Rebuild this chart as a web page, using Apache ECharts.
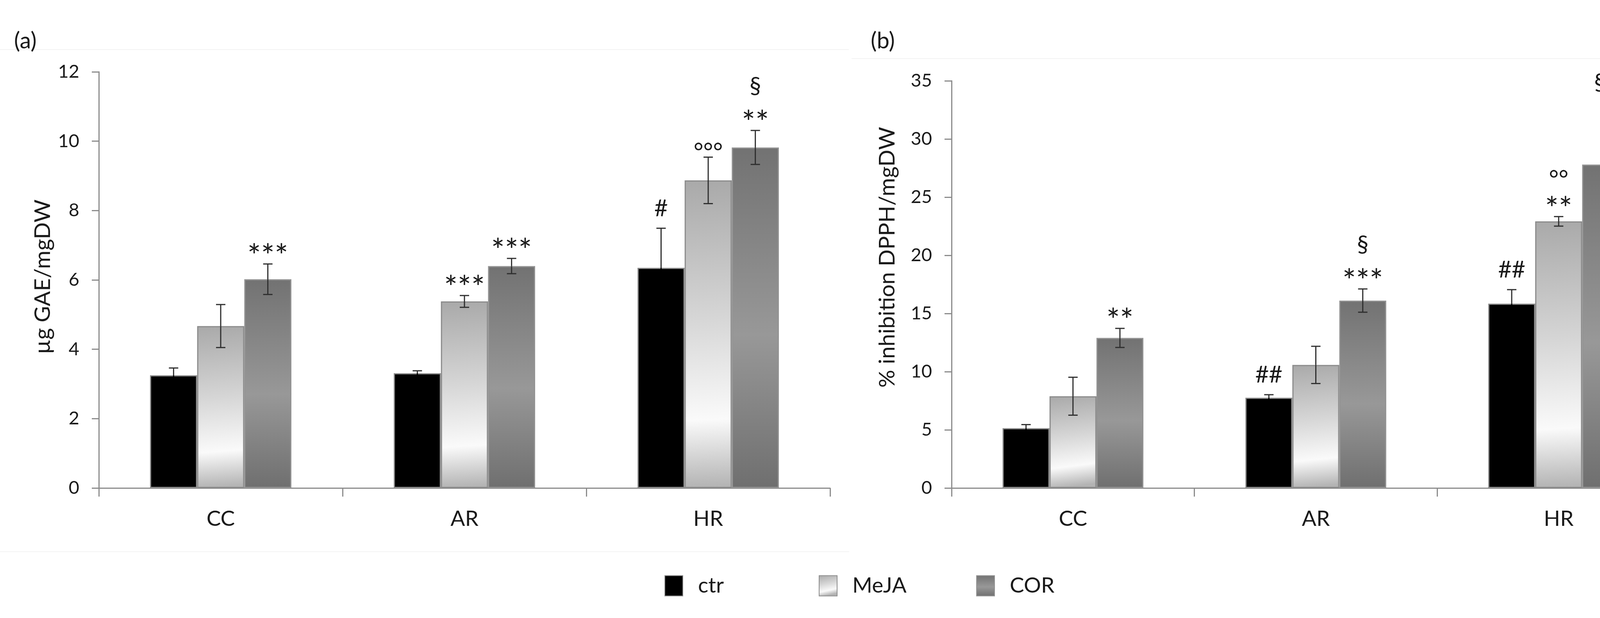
<!DOCTYPE html>
<html>
<head>
<meta charset="utf-8">
<title>GAE / DPPH</title>
<script src="https://cdn.jsdelivr.net/npm/echarts@6/dist/echarts.min.js"></script>
<style>
    html, body {margin: 0; padding: 0; background: #fff; overflow: hidden;}
    #chart {width: 4358px; height: 1583px;}
</style>
</head>
<body>
<div id="chart"></div>
<script>
var categories = ['CC', 'AR', 'HR'];
var seriesNames = ['ctr', 'MeJA', 'COR'];

// (a) ug GAE/mgDW
var gaeCtr = [3.25, 3.31, 6.35];
var gaeCtrErr = [0.21, 0.07, 1.14];
var gaeMeja = [4.67, 5.38, 8.87];
var gaeMejaErr = [0.62, 0.17, 0.67];
var gaeCor = [6.02, 6.40, 9.82];
var gaeCorErr = [0.44, 0.22, 0.49];
var gaeTicks = [0, 2, 4, 6, 8, 10, 12];

// (b) % inhibition DPPH/mgDW
var dpphCtr = [5.14, 7.76, 15.85];
var dpphCtrErr = [0.31, 0.26, 1.2];
var dpphMeja = [7.89, 10.58, 22.92];
var dpphMejaErr = [1.63, 1.6, 0.41];
var dpphCor = [12.9, 16.11, 27.8];
var dpphCorErr = [0.82, 1.0, 3.24];
var dpphTicks = [0, 5, 10, 15, 20, 25, 30, 35];

// significance marks, top line first
var gaeMarksCtr = ['', '', '#'];
var gaeMarksMeja = ['', '***', '°°°'];
var gaeMarksCor = ['***', '***', '§\n**'];
var dpphMarksCtr = ['', '##', '##'];
var dpphMarksMeja = ['', '', '°°\n**'];
var dpphMarksCor = ['**', '§\n***', '§§\n*'];

var gaeTitle = 'µg GAE/mgDW';
var dpphTitle = '% inhibition DPPH/mgDW';

var FONT = 'Lato';
var TXT = '#1a1a1a';
var AXIS = '#8c8c8c';
var GAP = 0.42;

var fills = [
    '#000000',
    {type: 'linear', x: 0, y: 0, x2: 0.25, y2: 1, colorStops: [
        {offset: 0, color: '#a9a9a9'}, {offset: 0.45, color: '#d6d6d6'},
        {offset: 0.78, color: '#fafafa'}, {offset: 1, color: '#b3b3b3'}]},
    {type: 'linear', x: 0, y: 0, x2: 0, y2: 1, colorStops: [
        {offset: 0, color: '#727272'}, {offset: 0.55, color: '#989898'},
        {offset: 1, color: '#6f6f6f'}]}
];
var borders = ['#8a8a8a', '#8c8c8c', '#939393'];

function barSeries(name, s, values, axis) {
    return {
        name: name,
        type: 'bar',
        xAxisIndex: axis,
        yAxisIndex: axis,
        data: values,
        barGap: '0%',
        barCategoryGap: (GAP * 100) + '%',
        itemStyle: {color: fills[s], borderColor: borders[s], borderWidth: 3},
        emphasis: {disabled: true},
        z: 2
    };
}

function errData(means, errs, s) {
    var d = [];
    for (var i = 0; i < means.length; i++) {
        d.push([i, means[i] + errs[i], means[i] - errs[i], s, means[i]]);
    }
    return d;
}

// one line of a mark: size, how far its glyph sits above the text middle,
// and how far above the error cap the lowest line is centred
function markLook(line) {
    var ch = line.charAt(0);
    if (ch === '*') return {size: 82, lift: 0.26, base: 40};
    if (ch === '°') return {size: 60, lift: 0.30, base: 31};
    if (ch === '#') return {size: 60, lift: 0.0, base: 50};
    return {size: 60, lift: 0.0, base: 40};
}

function errSeries(means, errs, marks, s, axis) {
    return {
        type: 'custom',
        xAxisIndex: axis,
        yAxisIndex: axis,
        data: errData(means, errs, s),
        clip: false,
        z: 5,
        silent: true,
        renderItem: function (params, api) {
            var c = api.value(0);
            var hi = api.coord([c, api.value(1)]);
            var lo = api.coord([c, api.value(2)]);
            var top = api.coord([c, api.value(4)]);
            var bandW = api.size([1, 0])[0];
            var barW = bandW * (1 - GAP) / 3;
            var x = hi[0] + (api.value(3) - 1) * barW;
            var cap = 12;
            var st = {stroke: '#2e2e2e', lineWidth: 3};
            var inner = {stroke: api.value(3) === 0 ? '#000000' : '#2e2e2e', lineWidth: 3};
            var kids = [
                {type: 'line', shape: {x1: x, y1: hi[1], x2: x, y2: top[1]}, style: st},
                {type: 'line', shape: {x1: x, y1: top[1], x2: x, y2: lo[1]}, style: inner},
                {type: 'line', shape: {x1: x - cap, y1: hi[1], x2: x + cap, y2: hi[1]}, style: st},
                {type: 'line', shape: {x1: x - cap, y1: lo[1], x2: x + cap, y2: lo[1]}, style: inner}
            ];
            var m = marks[params.dataIndex];
            if (m) {
                var lines = m.split('\n').reverse();
                var cy = hi[1] - markLook(lines[0]).base;
                for (var k = 0; k < lines.length; k++) {
                    var look = markLook(lines[k]);
                    kids.push({
                        type: 'text',
                        x: x,
                        y: cy - 73 * k + look.lift * look.size,
                        style: {
                            text: lines[k], fill: TXT, font: look.size + 'px ' + FONT,
                            align: 'center', verticalAlign: 'middle'
                        }
                    });
                }
            }
            return {type: 'group', children: kids};
        }
    };
}

function xAxisOf(grid) {
    return {
        type: 'category',
        gridIndex: grid,
        data: categories,
        axisLine: {lineStyle: {color: AXIS, width: 3}},
        axisTick: {show: true, length: 22, lineStyle: {color: AXIS, width: 3}},
        axisLabel: {color: TXT, fontFamily: FONT, fontSize: 55, margin: 52}
    };
}

function yAxisOf(grid, ticks) {
    return {
        type: 'value',
        gridIndex: grid,
        min: ticks[0],
        max: ticks[ticks.length - 1],
        interval: ticks[1] - ticks[0],
        splitLine: {show: false},
        axisLine: {show: true, lineStyle: {color: AXIS, width: 3}},
        axisTick: {show: true, length: 18, lineStyle: {color: AXIS, width: 3}},
        axisLabel: {color: TXT, fontFamily: FONT, fontSize: 47, margin: 50}
    };
}

function legendOf(name, left) {
    return {
        data: [name],
        left: left,
        top: 1468,
        orient: 'horizontal',
        selectedMode: false,
        itemWidth: 46,
        itemHeight: 52,
        icon: 'rect',
        textStyle: {color: TXT, fontFamily: FONT, fontSize: 55, padding: [0, 0, 0, 34]}
    };
}

function axisTitle(text, x, y) {
    return {
        type: 'text', x: x, y: y, rotation: Math.PI / 2, silent: true,
        style: {text: text, fill: TXT, font: '57px ' + FONT, align: 'center', verticalAlign: 'middle'}
    };
}

var chart = echarts.init(document.getElementById('chart'));
chart.setOption({
    backgroundColor: '#ffffff',
    animation: false,
    grid: [
        {left: 253, top: 184, width: 1872, height: 1066},
        {left: 2436, top: 207, width: 1865, height: 1043}
    ],
    xAxis: [xAxisOf(0), xAxisOf(1)],
    yAxis: [yAxisOf(0, gaeTicks), yAxisOf(1, dpphTicks)],
    legend: [legendOf('ctr', 1696), legendOf('MeJA', 2091), legendOf('COR', 2494)],
    graphic: [
        {type: 'line', shape: {x1: 0, y1: 127, x2: 2173, y2: 127}, style: {stroke: '#f3f3f3', lineWidth: 2}, silent: true},
        {type: 'line', shape: {x1: 0, y1: 1413, x2: 2174, y2: 1413}, style: {stroke: '#f3f3f3', lineWidth: 2}, silent: true},
        {type: 'line', shape: {x1: 2180, y1: 150, x2: 4350, y2: 150}, style: {stroke: '#f3f3f3', lineWidth: 2}, silent: true},
        {type: 'text', left: 36, top: 76, style: {text: '(a)', fill: TXT, font: '58px ' + FONT}},
        {type: 'text', left: 2229, top: 76, style: {text: '(b)', fill: TXT, font: '58px ' + FONT}},
        axisTitle(gaeTitle, 110, 709),
        axisTitle(dpphTitle, 2272, 659)
    ],
    series: [
        barSeries(seriesNames[0], 0, gaeCtr, 0),
        barSeries(seriesNames[1], 1, gaeMeja, 0),
        barSeries(seriesNames[2], 2, gaeCor, 0),
        barSeries(seriesNames[0], 0, dpphCtr, 1),
        barSeries(seriesNames[1], 1, dpphMeja, 1),
        barSeries(seriesNames[2], 2, dpphCor, 1),
        errSeries(gaeCtr, gaeCtrErr, gaeMarksCtr, 0, 0),
        errSeries(gaeMeja, gaeMejaErr, gaeMarksMeja, 1, 0),
        errSeries(gaeCor, gaeCorErr, gaeMarksCor, 2, 0),
        errSeries(dpphCtr, dpphCtrErr, dpphMarksCtr, 0, 1),
        errSeries(dpphMeja, dpphMejaErr, dpphMarksMeja, 1, 1),
        errSeries(dpphCor, dpphCorErr, dpphMarksCor, 2, 1)
    ]
});
</script>
</body>
</html>
